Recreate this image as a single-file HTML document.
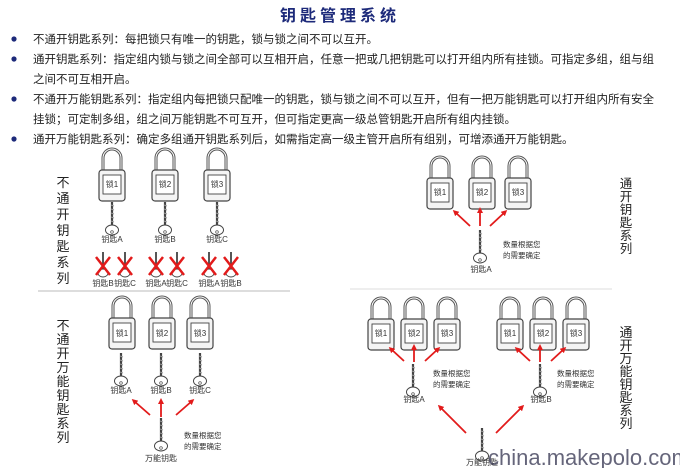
<!DOCTYPE html>
<html><head><meta charset="utf-8"><style>
html,body{margin:0;padding:0;background:#fff;width:680px;height:468px;overflow:hidden}
svg{display:block}
text{font-family:"Liberation Sans","Noto Sans CJK SC",sans-serif}
</style></head><body>
<svg width="680" height="468" viewBox="0 0 680 468" xmlns="http://www.w3.org/2000/svg">
<defs>
<g id="lk">
<path d="M-9 22 V8 A9 9 0 0 1 9 8 V22" fill="none" stroke="#555" stroke-width="3"/>
<path d="M-9 22 V8 A9 9 0 0 1 9 8 V22" fill="none" stroke="#fff" stroke-width="1"/>
<rect x="-13" y="20" width="26" height="31" rx="3" fill="#f4f4f4" stroke="#444" stroke-width="1.2"/>
<rect x="-9" y="25" width="18" height="19" fill="#fff" stroke="#444" stroke-width="0.9"/>
</g>
<g id="ky">
<line x1="0" y1="0" x2="0" y2="23" stroke="#444" stroke-width="2.2"/>
<path d="M-1 3 l3 1 M-1 7 l3 1 M-1 11 l3 1 M-1 15 l3 1 M-1 19 l3 1" stroke="#999" stroke-width="1"/>
<ellipse cx="0" cy="28" rx="6.5" ry="5" fill="#fff" stroke="#444" stroke-width="1"/>
<circle cx="0" cy="30" r="1.3" fill="none" stroke="#444" stroke-width="0.7"/>
</g>
<g id="sk">
<line x1="0" y1="0" x2="0" y2="17" stroke="#444" stroke-width="1.8"/>
<ellipse cx="0" cy="21" rx="5" ry="4" fill="#fff" stroke="#444" stroke-width="0.9"/>
</g>
<g id="xx"><path d="M-7 -9 L7 9 M7 -9 L-7 9" stroke="#e21b1b" stroke-width="2.5"/></g>
<marker id="ar" markerWidth="6" markerHeight="6" refX="3" refY="3" orient="auto" markerUnits="userSpaceOnUse" viewBox="0 0 6 6"><path d="M0 0 L6 3 L0 6z" fill="#e21b1b"/></marker>
</defs>

<text x="340" y="21" text-anchor="middle" font-size="16" font-weight="bold" fill="#1d2a7a" letter-spacing="4">钥匙管理系统</text>
<g font-size="11.5" fill="#222">
<circle cx="14" cy="39" r="2.6" fill="#1d2a7a"/><text x="33" y="43">不通开钥匙系列：每把锁只有唯一的钥匙，锁与锁之间不可以互开。</text>
<circle cx="14" cy="59" r="2.6" fill="#1d2a7a"/><text x="33" y="63">通开钥匙系列：指定组内锁与锁之间全部可以互相开启，任意一把或几把钥匙可以打开组内所有挂锁。可指定多组，组与组</text>
<text x="33" y="83">之间不可互相开启。</text>
<circle cx="14" cy="99" r="2.6" fill="#1d2a7a"/><text x="33" y="103">不通开万能钥匙系列：指定组内每把锁只配唯一的钥匙，锁与锁之间不可以互开，但有一把万能钥匙可以打开组内所有安全</text>
<text x="33" y="123">挂锁；可定制多组，组之间万能钥匙不可互开，但可指定更高一级总管钥匙开启所有组内挂锁。</text>
<circle cx="14" cy="139" r="2.6" fill="#1d2a7a"/><text x="33" y="143">通开万能钥匙系列：确定多组通开钥匙系列后，如需指定高一级主管开启所有组别，可增添通开万能钥匙。</text>
</g>

<!-- section 1 -->
<g font-size="13" fill="#222" text-anchor="middle">
<text x="63" y="187">不</text><text x="63" y="203">通</text><text x="63" y="219">开</text><text x="63" y="235">钥</text><text x="63" y="251">匙</text><text x="63" y="267">系</text><text x="63" y="283">列</text>
</g>
<use href="#lk" x="112" y="150"/><use href="#lk" x="165" y="150"/><use href="#lk" x="217" y="150"/>
<g font-size="8" fill="#333" text-anchor="middle">
<text x="112" y="187">锁1</text><text x="165" y="187">锁2</text><text x="217" y="187">锁3</text>
</g>
<use href="#ky" x="112" y="202"/><use href="#ky" x="165" y="202"/><use href="#ky" x="217" y="202"/>
<g font-size="8" fill="#333" text-anchor="middle">
<text x="112" y="242">钥匙A</text><text x="165" y="242">钥匙B</text><text x="217" y="242">钥匙C</text>
</g>
<use href="#sk" x="103" y="252"/><use href="#sk" x="125" y="252"/><use href="#sk" x="156" y="252"/><use href="#sk" x="177" y="252"/><use href="#sk" x="209" y="252"/><use href="#sk" x="231" y="252"/>
<use href="#xx" x="103" y="266"/><use href="#xx" x="125" y="266"/><use href="#xx" x="156" y="266"/><use href="#xx" x="177" y="266"/><use href="#xx" x="209" y="266"/><use href="#xx" x="231" y="266"/>
<g font-size="8" fill="#333" text-anchor="middle">
<text x="103" y="286">钥匙B</text><text x="125" y="286">钥匙C</text><text x="156" y="286">钥匙A</text><text x="177" y="286">钥匙C</text><text x="209" y="286">钥匙A</text><text x="231" y="286">钥匙B</text>
</g>
<line x1="38" y1="291" x2="290" y2="291" stroke="#bbb" stroke-width="1"/>
<line x1="350" y1="289" x2="612" y2="289" stroke="#ddd" stroke-width="1"/>

<!-- section 2 top right -->
<use href="#lk" x="440" y="158"/><use href="#lk" x="482" y="158"/><use href="#lk" x="518" y="158"/>
<g font-size="8" fill="#333" text-anchor="middle">
<text x="440" y="195">锁1</text><text x="482" y="195">锁2</text><text x="518" y="195">锁3</text>
</g>
<g stroke="#e21b1b" stroke-width="1.8" marker-end="url(#ar)">
<line x1="470" y1="226" x2="455" y2="212"/><line x1="480" y1="226" x2="480" y2="210"/><line x1="490" y1="226" x2="505" y2="212"/>
</g>
<use href="#ky" x="480" y="230"/>
<g font-size="7.5" fill="#333"><text x="503" y="247">数量根据您</text><text x="503" y="258">的需要确定</text></g>
<text x="481" y="272" font-size="8" fill="#333" text-anchor="middle">钥匙A</text>
<g font-size="12.5" fill="#222" text-anchor="middle">
<text x="626" y="188">通</text><text x="626" y="201">开</text><text x="626" y="214">钥</text><text x="626" y="227">匙</text><text x="626" y="240">系</text><text x="626" y="253">列</text>
</g>

<!-- section 3 bottom left -->
<g font-size="13" fill="#222" text-anchor="middle">
<text x="63" y="330">不</text><text x="63" y="344">通</text><text x="63" y="358">开</text><text x="63" y="372">万</text><text x="63" y="386">能</text><text x="63" y="400">钥</text><text x="63" y="414">匙</text><text x="63" y="428">系</text><text x="63" y="442">列</text>
</g>
<use href="#lk" x="122" y="298"/><use href="#lk" x="162" y="298"/><use href="#lk" x="200" y="298"/>
<g font-size="8" fill="#333" text-anchor="middle">
<text x="122" y="336">锁1</text><text x="162" y="336">锁2</text><text x="200" y="336">锁3</text>
</g>
<use href="#ky" x="121" y="353"/><use href="#ky" x="161" y="353"/><use href="#ky" x="200" y="353"/>
<g font-size="8" fill="#333" text-anchor="middle">
<text x="121" y="393">钥匙A</text><text x="161" y="393">钥匙B</text><text x="200" y="393">钥匙C</text>
</g>
<g stroke="#e21b1b" stroke-width="1.8" marker-end="url(#ar)">
<line x1="150" y1="415" x2="134" y2="401"/><line x1="161" y1="417" x2="161" y2="401"/><line x1="176" y1="415" x2="192" y2="401"/>
</g>
<use href="#ky" x="161" y="418"/>
<g font-size="7.5" fill="#333"><text x="184" y="438">数量根据您</text><text x="184" y="449">的需要确定</text></g>
<text x="161" y="461" font-size="8" fill="#333" text-anchor="middle">万能钥匙</text>

<!-- section 4 bottom right -->
<use href="#lk" x="381" y="299"/><use href="#lk" x="414" y="299"/><use href="#lk" x="447" y="299"/>
<use href="#lk" x="510" y="299"/><use href="#lk" x="543" y="299"/><use href="#lk" x="576" y="299"/>
<g font-size="8" fill="#333" text-anchor="middle">
<text x="381" y="336">锁1</text><text x="414" y="336">锁2</text><text x="447" y="336">锁3</text>
<text x="510" y="336">锁1</text><text x="543" y="336">锁2</text><text x="576" y="336">锁3</text>
</g>
<g stroke="#e21b1b" stroke-width="1.8" marker-end="url(#ar)">
<line x1="404" y1="361" x2="391" y2="349"/><line x1="414" y1="362" x2="414" y2="347"/><line x1="425" y1="361" x2="438" y2="349"/>
<line x1="530" y1="361" x2="517" y2="349"/><line x1="540" y1="362" x2="540" y2="347"/><line x1="551" y1="361" x2="564" y2="349"/>
<line x1="466" y1="433" x2="440" y2="407"/><line x1="496" y1="433" x2="522" y2="407"/>
</g>
<use href="#ky" x="413" y="364"/><use href="#ky" x="540" y="364"/>
<g font-size="7.5" fill="#333"><text x="433" y="376">数量根据您</text><text x="433" y="387">的需要确定</text><text x="557" y="376">数量根据您</text><text x="557" y="387">的需要确定</text></g>
<g font-size="8" fill="#333" text-anchor="middle"><text x="414" y="402">钥匙A</text><text x="541" y="402">钥匙B</text></g>
<use href="#ky" x="482" y="428"/>
<text x="482" y="465" font-size="8" fill="#333" text-anchor="middle">万能钥匙</text>
<g font-size="13" fill="#222" text-anchor="middle">
<text x="626" y="337">通</text><text x="626" y="350">开</text><text x="626" y="363">万</text><text x="626" y="376">能</text><text x="626" y="389">钥</text><text x="626" y="402">匙</text><text x="626" y="415">系</text><text x="626" y="428">列</text>
</g>
<text x="488" y="465" font-size="22" fill="#3f3f5a" opacity="0.8">china.makepolo.com</text>
</svg>
</body></html>
